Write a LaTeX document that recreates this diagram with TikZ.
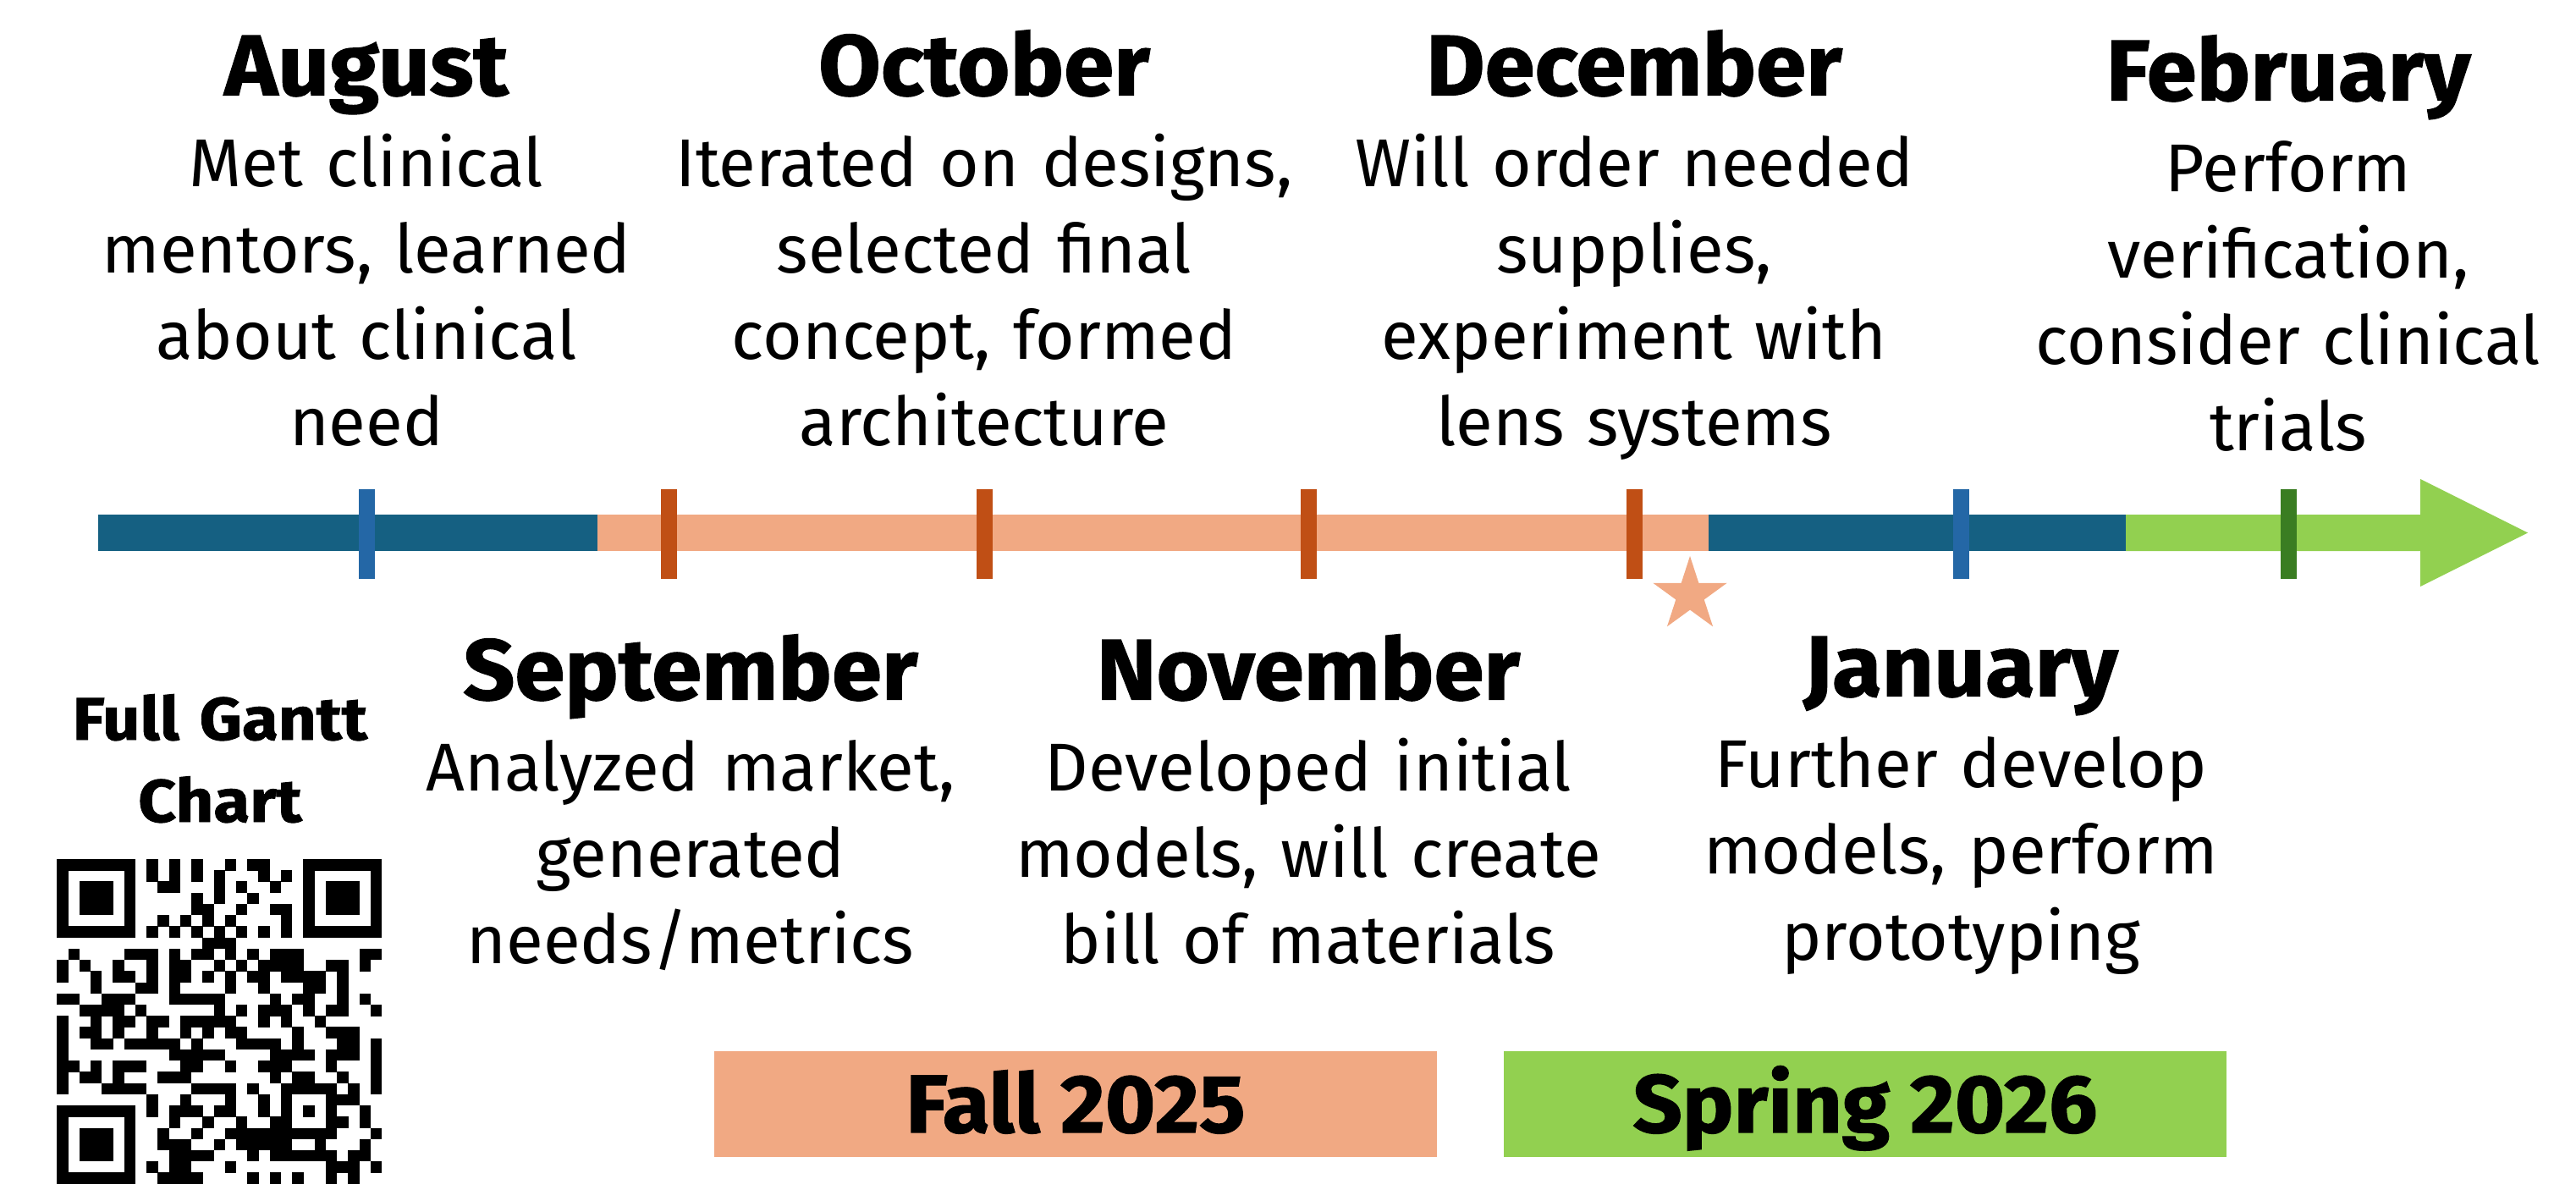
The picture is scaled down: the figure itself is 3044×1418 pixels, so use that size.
\documentclass[tikz,border=0pt]{standalone}
\usepackage{fontspec}
\setmainfont{Fira Sans}
\newfontfamily\headfont[FakeStretch=1.05,FakeBold=1.2]{Fira Sans}
\usetikzlibrary{shapes.geometric}
\definecolor{barblue}{HTML}{156082}
\definecolor{barpeach}{HTML}{F1A983}
\definecolor{barlime}{HTML}{92D050}
\definecolor{tickrust}{HTML}{C04F15}
\definecolor{tickblue}{HTML}{2467A6}
\definecolor{tickgreen}{HTML}{3A7D22}
\begin{document}
\begin{tikzpicture}[x=.5pt,y=-.5pt]
\newcommand\tick[2]{%
\fill [color=#2] (#1-9.5, 578) rectangle (#1+9.5, 684);%
}
\newcommand\milestone[6]{%
\node (#1) at (#2, #3) [anchor=base, font=\headfont\fontsize{50.8pt}{60pt}\selectfont\bfseries] {#5};%
\node (#1-text) at (#2, #4) [anchor=base, text width=370pt, align=center, inner sep=0pt, font=\fontsize{40pt}{51.15pt}\selectfont] {#6};%
}
\newcommand\term[4]{%
\node (#1) at (#2, 1304.5) [fill=#3, minimum width=427pt, minimum height=62.5pt, inner sep=0pt, text height=33.4pt, text depth=0pt, font=\headfont\fontsize{48.5pt}{58pt}\selectfont\bfseries] {#4};%
}
\def\qrcell#1{\ifx#1.\else\if1#1\fill [black] (\qrx, \qry) rectangle +(13.5, 13.5);\fi\pgfmathsetmacro\qrx{\qrx+13.23}\expandafter\qrcell\fi}
\useasboundingbox (0, 0) rectangle (3044, 1418);
\fill [color=white] (0, 0) rectangle (3044, 1418);

\fill [color=barblue] (116, 608) rectangle (706, 651);
\fill [color=barpeach] (706, 608) rectangle (2019, 651);
\fill [color=barblue] (2019, 608) rectangle (2512, 651);
\fill [color=barlime] (2512, 608) -- (2860, 608) -- (2860, 566) -- (2987, 629.5) -- (2860, 693) -- (2860, 651) -- (2512, 651) -- cycle;

\tick{433}{tickblue}
\tick{790}{tickrust}
\tick{1163}{tickrust}
\tick{1546}{tickrust}
\tick{1931}{tickrust}
\tick{2317}{tickblue}
\tick{2704}{tickgreen}

\node (today) at (1997, 703) [star, star points=5, star point ratio=2.618, fill=barpeach, inner sep=0pt, minimum size=46pt] {};

\milestone{aug}{433}{112.5}{220}{August}{Met clinical\\mentors, learned\\about clinical\\need}
\milestone{oct}{1163}{112.5}{220}{October}{Iterated on designs,\\selected final\\concept, formed\\architecture}
\milestone{dec}{1931}{112.5}{220}{December}{Will order needed\\supplies,\\experiment with\\lens systems}
\milestone{feb}{2704}{118.5}{226}{February}{Perform\\verification,\\consider clinical\\trials}
\milestone{sep}{816}{826.5}{934}{September}{Analyzed market,\\generated\\needs/metrics}
\milestone{nov}{1546}{826.5}{934}{November}{Developed initial\\models, will create\\bill of materials}
\milestone{jan}{2317}{822.5}{930}{January}{Further develop\\models, perform\\prototyping}

\term{fall}{1271}{barpeach}{Fall 2025}
\term{spring}{2204}{barlime}{Spring 2026}

\node (gantt) at (260, 874) [anchor=base, text width=250pt, align=center, inner sep=0pt, font=\headfont\fontsize{35.5pt}{48.5pt}\selectfont\bfseries\addfontfeatures{FakeStretch=1.1}] {Full Gantt\\Chart};

% QR code, one string per row
\foreach \bits [count=\qrrow from 0] in {
11111110101010010110001111111,
10000010101010100010101000001,
10111010011000101001001011101,
10111010000010100100001011101,
10111010000011001001101011101,
10000010010101010000101000001,
11111110101010101010101111111,
00000000000001110000000000000,
01000011101011010101110000011,
10100100101100101011110011010,
10010110101101010110111101000,
00010001101000010010001101000,
11001110001111100001011001010,
00111101000000101011101011001,
10010110110111110010100100000,
10110100100101011000010011100,
10011011111010001111010001101,
10000000001111100001111011101,
11010111000110010011100010001,
10110100011100000001011001001,
10001111000011110100111110101,
00000000100100010010100011100,
11111110101110110010101010010,
10000010001001001001100011010,
10111010010010011111111110001,
10111010011100101111100100010,
10111010001111000101111110110,
10000010101100010000000011101,
11111110011110000101010010100}
{\def\qrx{67.3}\pgfmathsetmacro\qry{1015+13.23*\qrrow}\expandafter\qrcell\bits.}
\end{tikzpicture}
\end{document}
